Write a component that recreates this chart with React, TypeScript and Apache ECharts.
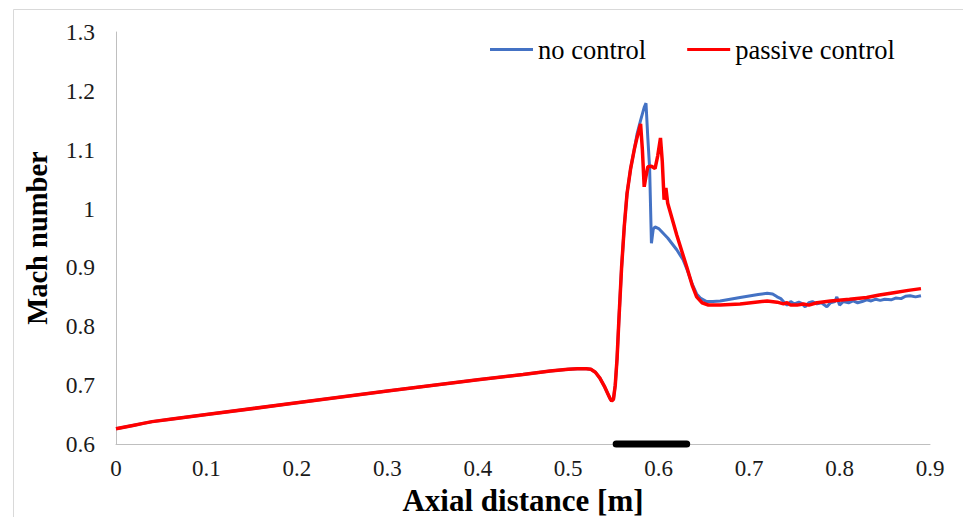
import React, { useEffect, useRef } from "react";
import * as echarts from "echarts";

// Shared part (both cases coincide upstream of the shock)
const sharedInlet: [number, number][] = [
  [0, 0.626], [0.01, 0.629], [0.02, 0.632], [0.03, 0.635], [0.04, 0.638],
  [0.06, 0.642], [0.1, 0.650], [0.2, 0.670], [0.3, 0.690], [0.4, 0.709],
  [0.45, 0.718], [0.48, 0.724], [0.5, 0.727], [0.51, 0.728], [0.52, 0.728],
  [0.525, 0.727], [0.53, 0.722], [0.535, 0.712], [0.54, 0.698], [0.543, 0.688],
  [0.546, 0.678], [0.548, 0.673], [0.55, 0.676], [0.552, 0.700], [0.554, 0.745],
  [0.556, 0.810], [0.559, 0.900], [0.562, 0.970], [0.565, 1.025], [0.569, 1.068],
  [0.573, 1.100],
];

const noControlTail: [number, number][] = [
  [0.576, 1.126], [0.58, 1.150], [0.584, 1.172], [0.586, 1.179], [0.588, 1.120],
  [0.59, 1.069], [0.592, 0.941], [0.594, 0.965], [0.596, 0.969], [0.6, 0.966],
  [0.61, 0.950], [0.62, 0.930], [0.627, 0.913], [0.631, 0.898], [0.637, 0.872],
  [0.642, 0.855], [0.646, 0.848], [0.653, 0.842], [0.66, 0.842], [0.668, 0.843],
  [0.69, 0.849], [0.71, 0.854], [0.72, 0.856], [0.726, 0.855], [0.731, 0.850],
  [0.735, 0.847], [0.738, 0.842], [0.742, 0.836], [0.746, 0.842], [0.75, 0.838],
  [0.755, 0.841], [0.758, 0.839], [0.762, 0.833], [0.766, 0.840], [0.77, 0.842],
  [0.775, 0.838], [0.78, 0.840], [0.786, 0.833], [0.79, 0.840], [0.795, 0.842],
  [0.797, 0.850], [0.8, 0.836], [0.804, 0.842], [0.81, 0.840], [0.815, 0.843],
  [0.82, 0.840], [0.825, 0.842], [0.83, 0.845], [0.835, 0.843], [0.84, 0.846],
  [0.845, 0.844], [0.85, 0.846], [0.857, 0.845], [0.862, 0.848], [0.868, 0.847],
  [0.873, 0.851], [0.878, 0.852], [0.884, 0.850], [0.89, 0.852],
];

const passiveTail: [number, number][] = [
  [0.576, 1.120], [0.58, 1.144], [0.582, 1.100], [0.584, 1.037], [0.586, 1.055],
  [0.588, 1.071], [0.592, 1.072], [0.596, 1.068], [0.599, 1.090], [0.602, 1.120],
  [0.604, 1.080], [0.606, 1.015], [0.608, 1.035], [0.61, 1.009], [0.62, 0.955],
  [0.631, 0.901], [0.637, 0.870], [0.642, 0.850], [0.648, 0.840], [0.655, 0.836],
  [0.668, 0.836], [0.69, 0.838], [0.72, 0.843], [0.731, 0.841], [0.738, 0.838],
  [0.742, 0.840], [0.746, 0.836], [0.753, 0.836], [0.76, 0.838], [0.766, 0.836],
  [0.775, 0.840], [0.79, 0.843], [0.811, 0.846], [0.83, 0.849], [0.844, 0.853],
  [0.86, 0.857], [0.876, 0.861], [0.89, 0.864],
];

// Black marker on the axis (position of the control region)
const controlRegion: [number, number][] = [[0.553, 0.6], [0.631, 0.6]];

const seriesNames = ["no control", "passive control"];
const xTicks = ["0", "0.1", "0.2", "0.3", "0.4", "0.5", "0.6", "0.7", "0.8", "0.9"];
const yTicks = ["0.6", "0.7", "0.8", "0.9", "1", "1.1", "1.2", "1.3"];

const FONT = "Liberation Serif";

export default function App() {
  const ref = useRef<HTMLDivElement>(null);
  useEffect(() => {
    document.body.style.margin = "0";
    if (!ref.current) return;
    const chart = echarts.init(ref.current, null, { renderer: "svg" });
    chart.setOption({
      animation: false,
      backgroundColor: "#ffffff",
      textStyle: { fontFamily: FONT },
      graphic: [
        {
          type: "rect",
          shape: { x: 13.5, y: 9.5, width: 1000, height: 600 },
          style: { fill: "none", stroke: "#D9D9D9", lineWidth: 1 },
          silent: true,
        },
      ],
      legend: {
        left: 490,
        top: 36,
        padding: 0,
        itemWidth: 43,
        itemHeight: 3,
        itemGap: 41,
        icon: "rect",
        data: seriesNames,
        textStyle: { fontFamily: FONT, fontSize: 26.5, color: "#000" },
      },
      grid: { left: 116, right: 33, top: 32, bottom: 73, containLabel: false, outerBoundsMode: "none" },
      xAxis: {
        type: "value",
        min: 0,
        max: 0.9,
        interval: 0.1,
        name: "Axial distance [m]",
        nameLocation: "middle",
        nameGap: 41,
        nameTextStyle: { fontFamily: FONT, fontSize: 31, fontWeight: "bold", color: "#000" },
        axisLine: { show: true, lineStyle: { color: "#BFBFBF", width: 1 } },
        axisTick: { show: false },
        splitLine: { show: false },
        axisLabel: {
          margin: 13,
          fontFamily: FONT,
          fontSize: 23,
          color: "#1a1a1a",
          formatter: (v: number) => xTicks[Math.round(v * 10)] ?? String(v),
        },
      },
      yAxis: {
        type: "value",
        min: 0.6,
        max: 1.3,
        interval: 0.1,
        name: "Mach number",
        nameLocation: "middle",
        nameRotate: 90,
        nameGap: 64,
        nameTextStyle: { fontFamily: FONT, fontSize: 28.5, fontWeight: "bold", color: "#000" },
        axisLine: { show: true, lineStyle: { color: "#BFBFBF", width: 1 } },
        axisTick: { show: false },
        splitLine: { show: false },
        axisLabel: {
          margin: 21,
          fontFamily: FONT,
          fontSize: 23.5,
          color: "#1a1a1a",
          formatter: (v: number) => yTicks[Math.round(v * 10) - 6] ?? String(v),
        },
      },
      series: [
        {
          name: seriesNames[0],
          type: "line",
          data: [...sharedInlet, ...noControlTail],
          showSymbol: false,
          symbol: "none",
          lineStyle: { color: "#4472C4", width: 3 },
          itemStyle: { color: "#4472C4" },
        },
        {
          name: seriesNames[1],
          type: "line",
          data: [...sharedInlet, ...passiveTail],
          showSymbol: false,
          symbol: "none",
          lineStyle: { color: "#FF0000", width: 3.5 },
          itemStyle: { color: "#FF0000" },
        },
        {
          name: "control region",
          type: "line",
          data: controlRegion,
          showSymbol: false,
          symbol: "none",
          clip: false,
          silent: true,
          lineStyle: { color: "#000000", width: 7, cap: "round" },
          z: 5,
        },
      ],
    });
    return () => chart.dispose();
  }, []);
  return <div ref={ref} style={{ width: 963, height: 517 }} />;
}
